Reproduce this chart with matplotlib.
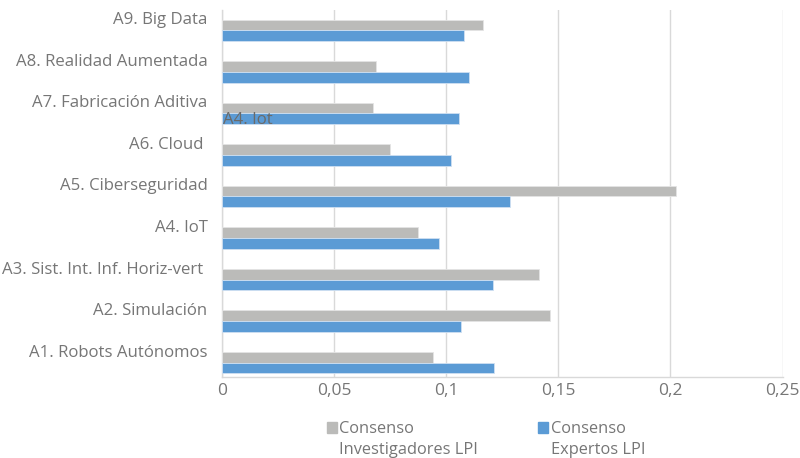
import matplotlib
matplotlib.use("Agg")
import matplotlib.pyplot as plt
import matplotlib.transforms as mtransforms
from matplotlib.patches import Rectangle
import numpy as np

# Categories (bottom to top) and the two consensus series
categories = [
    "A1. Robots Autónomos",
    "A2. Simulación",
    "A3. Sist. Int. Inf. Horiz-vert ",
    "A4. IoT",
    "A5. Ciberseguridad",
    "A6. Cloud ",
    "A7. Fabricación Aditiva",
    "A8. Realidad Aumentada",
    "A9. Big Data",
]
investigadores = [0.0943, 0.1464, 0.1415, 0.0872, 0.2027, 0.0751, 0.0673, 0.0686, 0.1164]
expertos = [0.1211, 0.1064, 0.1208, 0.0966, 0.1286, 0.1022, 0.1057, 0.1101, 0.1079]
series_names = ["Consenso\nInvestigadores LPI", "Consenso\nExpertos LPI"]
xticks = [0, 0.05, 0.1, 0.15, 0.2, 0.25]
xtick_labels = ["0", "0,05", "0,1", "0,15", "0,2", "0,25"]
stray_label = "A4. Iot"

GRAY = "#bbbbb9"
BLUE = "#5b9bd5"
TEXT = "#767676"
GRID = "#d9d9d9"
FONT = "Open Sans"
FS_CAT = 12.1
FS_TICK = 12.5
FS_LEG = 11.8

plt.rcParams["font.family"] = [FONT, "DejaVu Sans"]

W, H = 800, 458
fig = plt.figure(figsize=(W / 100, H / 100), dpi=100)
ax = fig.add_axes([222 / W, (H - 376.7) / H, (782.5 - 222) / W, (376.7 - 10) / H])

y = np.arange(len(categories))
bh = 0.26
ax.barh(y + bh / 2, investigadores, height=bh, color=GRAY, edgecolor="#e4e4e4",
        linewidth=0.6, zorder=3)
ax.barh(y - bh / 2, expertos, height=bh, color=BLUE, edgecolor="#cfe0f2",
        linewidth=0.6, zorder=3)

ax.set_xlim(0, 0.25)
ax.set_ylim(-0.34, 8.49)

ax.set_xticks(xticks)
ax.set_xticklabels(xtick_labels, fontsize=FS_TICK)
ax.set_yticks(y)
ax.set_yticklabels(categories, fontsize=FS_CAT)
ax.tick_params(axis="both", length=0, colors=TEXT)
ax.tick_params(axis="y", pad=10.5)
ax.tick_params(axis="x", pad=4.5)

# category labels sit a little above their bar pair
shift = mtransforms.ScaledTranslation(0, 0.12, fig.dpi_scale_trans)
for lbl in ax.get_yticklabels():
    lbl.set_transform(lbl.get_transform() + shift)

ax.grid(axis="x", color=GRID, linewidth=1.0, zorder=0)
ax.grid(axis="y", visible=False)
for side in ("top", "right"):
    ax.spines[side].set_visible(False)
ax.spines["left"].set_color(GRID)
ax.spines["bottom"].set_color(GRID)
ax.spines["left"].set_linewidth(1.0)
ax.spines["bottom"].set_linewidth(1.0)

# stray label left over near the A7 pair
ax.text(0, 6, stray_label, fontsize=FS_CAT, color="#6a6a6a", ha="left", va="center",
        transform=ax.transData + mtransforms.ScaledTranslation(0.005, -0.07, fig.dpi_scale_trans),
        zorder=4)

# legend below the axis
legend_items = [(series_names[0], GRAY, 326.7), (series_names[1], BLUE, 538.3)]
for name, col, x0 in legend_items:
    fig.add_artist(Rectangle((x0 / W, (H - 432.7) / H), 10 / W, 11 / H,
                             transform=fig.transFigure, color=col))
    for k, line in enumerate(name.split("\n")):
        fig.text((x0 + 12.5) / W, (H - 433.3 - 20.2 * k) / H, line, fontsize=FS_LEG,
                 color=TEXT, ha="left", va="baseline")

fig.savefig("out.png", dpi=100)
